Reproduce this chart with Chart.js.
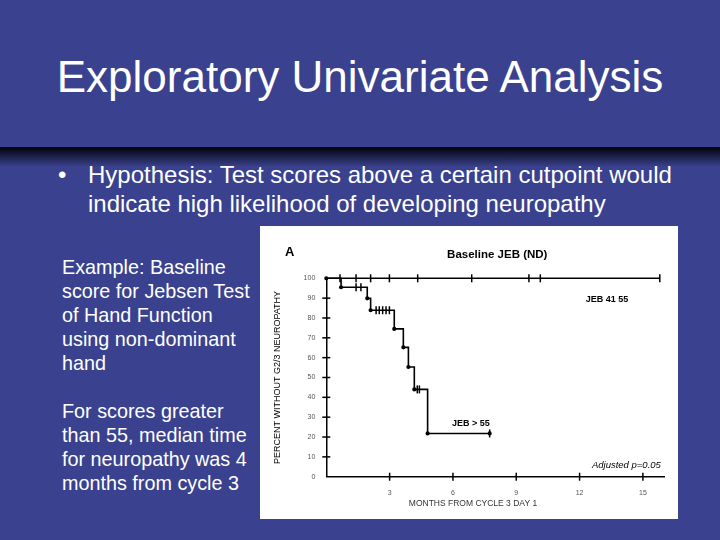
<!DOCTYPE html>
<html>
<head>
<meta charset="utf-8">
<script src="https://cdn.jsdelivr.net/npm/chart.js@4.4.1/dist/chart.umd.min.js"></script>
<style>
  html, body { margin: 0; padding: 0; }
  body { width: 720px; height: 540px; background: #3a428f; position: relative; overflow: hidden;
         font-family: "Liberation Sans", Arial, sans-serif; color: #fff; }
  .title { position: absolute; left: 0; width: 720px; top: 50px; text-align: center; font-size: 44px; line-height: 54px; }
  .band { position: absolute; left: 0; top: 147px; width: 720px; height: 20px;
          background: linear-gradient(#02030a, #3a428f); }
  .bullet { position: absolute; left: 58px; top: 160px; font-size: 24px; line-height: 29px; }
  .bullet .dot { position: absolute; left: 0; top: 0; }
  .bullet .txt { margin-left: 30px; }
  .side { position: absolute; left: 62px; top: 255px; font-size: 19.8px; line-height: 24px; }
  .panel { position: absolute; left: 260px; top: 226px; width: 418px; height: 293px; background: #fff; }
</style>
</head>
<body>
<div class="title">Exploratory Univariate Analysis</div>
<div class="band"></div>
<div class="bullet"><span class="dot">•</span><div class="txt">Hypothesis: Test scores above a certain cutpoint would<br>indicate high likelihood of developing neuropathy</div></div>
<div class="side">Example: Baseline<br>score for Jebsen Test<br>of Hand Function<br>using non-dominant<br>hand<br><br>For scores greater<br>than 55, median time<br>for neuropathy was 4<br>months from cycle 3</div>
<div class="panel"><canvas id="km" width="418" height="293"></canvas></div>

<script>
// months from cycle 3 day 1 / percent without G2/3 neuropathy
const lowX = [0, 15.8];
const lowY = [100, 100];
const lowCensorX = [0.65, 1.41, 2.1, 2.99, 4.33, 6.89, 9.6, 10.14, 15.8];

const highX = [0, 0.7, 1.94, 2.1, 3.22, 3.65, 3.89, 4.17, 4.8, 7.74];
const highY = [100, 95.5, 89.9, 83.9, 74.5, 65.2, 55.3, 44, 21.8, 21.8];
const highCensorX = [1.41, 1.64, 2.36, 2.51, 2.67, 2.83, 2.99, 4.31, 4.41, 7.74];
const highCensorY = [95.5, 95.5, 83.9, 83.9, 83.9, 83.9, 83.9, 44, 44, 21.8];

const xTicks = [3, 6, 9, 12, 15];
const yTicks = [0, 10, 20, 30, 40, 50, 60, 70, 80, 90, 100];

const toPts = (xs, ys) => xs.map((x, i) => ({ x, y: ys[i] }));

const lowCurve = toPts(lowX, lowY);
const lowCensor = lowCensorX.map(x => ({ x, y: 100 }));
const highCurve = toPts(highX, highY);
const highCensor = toPts(highCensorX, highCensorY);

// cross ticks on the axes + texts on the figure
const extras = {
  id: 'extras',
  afterDraw(chart) {
    const { ctx, scales: { x, y } } = chart;
    ctx.save();
    ctx.strokeStyle = '#000';
    ctx.lineWidth = 1.5;
    const x0 = x.getPixelForValue(0), y0 = y.getPixelForValue(0);
    yTicks.slice(1, -1).forEach(v => {
      const py = y.getPixelForValue(v);
      ctx.beginPath(); ctx.moveTo(x0 - 4, py); ctx.lineTo(x0 + 4, py); ctx.stroke();
    });
    xTicks.forEach(v => {
      const px = x.getPixelForValue(v);
      ctx.beginPath(); ctx.moveTo(px, y0 - 4); ctx.lineTo(px, y0 + 4); ctx.stroke();
    });

    ctx.fillStyle = '#000';
    ctx.textBaseline = 'middle';
    ctx.font = 'bold 13px "Liberation Sans", Arial';
    ctx.textAlign = 'left';
    ctx.fillText('A', 25, 26);
    ctx.font = 'bold 11.5px "Liberation Sans", Arial';
    ctx.textAlign = 'center';
    ctx.fillText('Baseline JEB (ND)', x.getPixelForValue(8.1), 29);
    ctx.font = 'bold 9px "Liberation Sans", Arial';
    ctx.fillText('JEB 41 55', x.getPixelForValue(13.3), y.getPixelForValue(89.5));
    ctx.fillText('JEB > 55', x.getPixelForValue(6.85), y.getPixelForValue(26.8));
    ctx.font = 'italic 9.5px "Liberation Sans", Arial';
    ctx.textAlign = 'right';
    ctx.fillText('Adjusted p=0.05', x.getPixelForValue(15.85), y.getPixelForValue(5.5));
    ctx.font = '8.5px "Liberation Sans", Arial';
    ctx.fillStyle = '#333';
    ctx.textAlign = 'center';
    ctx.fillText('MONTHS FROM CYCLE 3 DAY 1', x.getPixelForValue(6.95), 278);
    ctx.restore();
  }
};

new Chart(document.getElementById('km'), {
  type: 'scatter',
  data: {
    datasets: [
      { data: lowCurve, showLine: true, stepped: 'before', borderColor: '#000', borderWidth: 1.6, pointRadius: 0, clip: false },
      { data: lowCensor, pointStyle: 'line', rotation: 90, pointRadius: 4, borderColor: '#000', borderWidth: 1.5, clip: false },
      { data: highCurve, showLine: true, stepped: 'before', borderColor: '#000', borderWidth: 1.6,
        pointRadius: 1.3, pointBackgroundColor: '#000', clip: false },
      { data: highCensor, pointStyle: 'line', rotation: 90, pointRadius: 4, borderColor: '#000', borderWidth: 1.5, clip: false }
    ]
  },
  options: {
    responsive: false,
    animation: false,
    events: [],
    layout: { padding: { left: 12.6, top: 52.3, right: 14, bottom: 10 } },
    plugins: { legend: { display: false }, tooltip: { enabled: false } },
    scales: {
      x: {
        type: 'linear', min: 0, max: 16,
        afterBuildTicks: s => { s.ticks = xTicks.map(v => ({ value: v })); },
        afterFit: s => { s.height = 32.3; },
        grid: { display: false, drawTicks: false },
        border: { display: true, color: '#000', width: 1.5 },
        ticks: { padding: 12, color: '#555', font: { size: 7, family: '"Liberation Sans", Arial' } }
      },
      y: {
        type: 'linear', min: 0, max: 100,
        afterBuildTicks: s => { s.ticks = yTicks.map(v => ({ value: v })); },
        afterFit: s => { s.width = 53.7; },
        grid: { display: false, drawTicks: false },
        border: { display: true, color: '#000', width: 1.5 },
        title: { display: true, text: 'PERCENT WITHOUT G2/3 NEUROPATHY', color: '#000', padding: 0,
                 font: { size: 9, family: '"Liberation Sans", Arial' } },
        ticks: { padding: 11, color: '#555', font: { size: 7, family: '"Liberation Sans", Arial' } }
      }
    }
  },
  plugins: [extras]
});
</script>
</body>
</html>
